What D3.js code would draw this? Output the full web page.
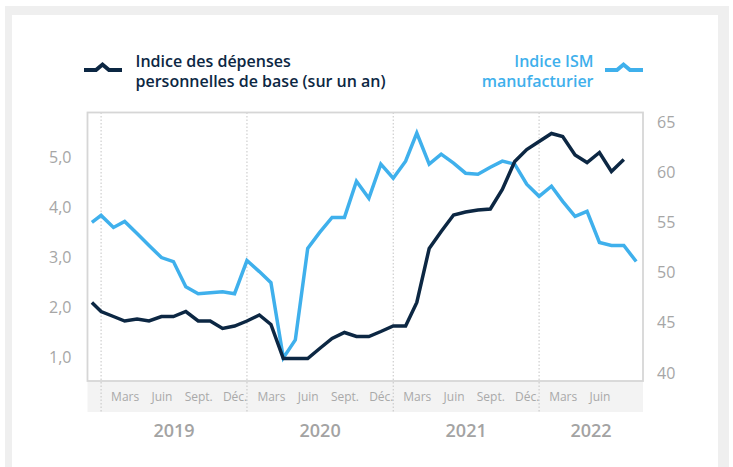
<!DOCTYPE html>
<html>
<head>
<meta charset="utf-8">
<title>Indice PCE de base et indice ISM</title>
<script src="https://d3js.org/d3.v7.min.js"></script>
<style>
  body { margin: 0; background: #fff; }
  svg text { font-family: "Open Sans", sans-serif; }
</style>
</head>
<body>
<svg id="chart" width="733" height="467"></svg>
<script>
// monthly observations, Dec 2018 -> Sep 2022
var dates = [
  "2018-12-09",
  "2019-01-01","2019-02-01","2019-03-01","2019-04-01","2019-05-01","2019-06-01",
  "2019-07-01","2019-08-01","2019-09-01","2019-10-01","2019-11-01","2019-12-01",
  "2020-01-01","2020-02-01","2020-03-01","2020-04-01","2020-05-01","2020-06-01",
  "2020-07-01","2020-08-01","2020-09-01","2020-10-01","2020-11-01","2020-12-01",
  "2021-01-01","2021-02-01","2021-03-01","2021-04-01","2021-05-01","2021-06-01",
  "2021-07-01","2021-08-01","2021-09-01","2021-10-01","2021-11-01","2021-12-01",
  "2022-01-01","2022-02-01","2022-03-01","2022-04-01","2022-05-01","2022-06-01",
  "2022-07-01","2022-08-01","2022-09-01"
];

// core PCE, % y/y (left axis) - ends Aug 2022
var pceValues = [
  2.09,
  1.91, 1.81, 1.72, 1.76, 1.72, 1.81, 1.81, 1.91, 1.72, 1.72, 1.57, 1.62,
  1.72, 1.84, 1.65, 0.97, 0.97, 0.97, 1.17, 1.37, 1.49, 1.41, 1.41, 1.51,
  1.62, 1.62, 2.09, 3.17, 3.51, 3.84, 3.90, 3.94, 3.96, 4.35, 4.91, 5.15,
  5.31, 5.47, 5.41, 5.04, 4.89, 5.09, 4.71, 4.95
];

// ISM manufacturing (right axis) - ends Sep 2022
var ismValues = [
  55.0,
  55.7, 54.5, 55.1, 53.9, 52.7, 51.5, 51.1, 48.6, 47.9, 48.0, 48.1, 47.9,
  51.2, 50.1, 49.0, 41.5, 43.3, 52.4, 54.0, 55.5, 55.5, 59.1, 57.4, 60.8,
  59.4, 61.1, 63.9, 60.8, 61.8, 60.9, 59.9, 59.8, 60.5, 61.1, 60.8, 58.8,
  57.6, 58.6, 57.1, 55.6, 56.1, 53.0, 52.7, 52.7, 51.1
];

var leftTicks = [1, 2, 3, 4, 5];
var rightTicks = [40, 45, 50, 55, 60, 65];
var years = [2019, 2020, 2021, 2022];
var monthTicks = [
  "2019-03-01","2019-06-01","2019-09-01","2019-12-01",
  "2020-03-01","2020-06-01","2020-09-01","2020-12-01",
  "2021-03-01","2021-06-01","2021-09-01","2021-12-01",
  "2022-03-01","2022-06-01"
];
var monthNames = {2: "Mars", 5: "Juin", 8: "Sept.", 11: "Déc."};

var pceLabel = ["Indice des dépenses", "personnelles de base (sur un an)"];
var ismLabel = ["Indice ISM", "manufacturier"];

var darkColor = "#0c2743";
var blueColor = "#3fb0ec";
var axisGrey = "#a6a6a6";

var parse = d3.timeParse("%Y-%m-%d");
var fr = d3.formatLocale({decimal: ",", thousands: " ", grouping: [3], currency: ["", " $"]});

var svg = d3.select("#chart");

// light grey frame round the card
svg.append("rect").attr("x", 5).attr("y", 6).attr("width", 724).attr("height", 470).attr("fill", "#efefef");
svg.append("rect").attr("x", 12).attr("y", 15).attr("width", 706).attr("height", 470).attr("fill", "#fff");

var plot = {left: 87.5, right: 643, top: 112.5, bottom: 381};

var x = d3.scaleTime()
    .domain([new Date(2018, 10, 28), new Date(2022, 8, 18)])
    .range([plot.left, plot.right]);

var yLeft = d3.scaleLinear().domain([1, 5]).range([357, 157]);
var yRight = d3.scaleLinear().domain([40, 65]).range([373, 122]);

// grey band that holds the month labels
svg.append("rect")
    .attr("x", plot.left).attr("y", plot.bottom)
    .attr("width", plot.right - plot.left).attr("height", 31)
    .attr("fill", "#f3f3f3");

// dotted year separators
svg.append("g").selectAll("line")
  .data(years)
  .join("line")
    .attr("x1", function(d) { return x(new Date(d, 0, 1)); })
    .attr("x2", function(d) { return x(new Date(d, 0, 1)); })
    .attr("y1", plot.top)
    .attr("y2", plot.bottom + 31)
    .attr("stroke", "#c4c4c4")
    .attr("stroke-width", 1)
    .attr("stroke-dasharray", "1.5,2");

// plot frame
svg.append("rect")
    .attr("x", plot.left).attr("y", plot.top)
    .attr("width", plot.right - plot.left).attr("height", plot.bottom - plot.top)
    .attr("fill", "none")
    .attr("stroke", "#d6d6d6")
    .attr("stroke-width", 1.8);

// axes
var leftAxis = svg.append("g")
    .attr("transform", "translate(" + plot.left + ",0)")
    .call(d3.axisLeft(yLeft).tickValues(leftTicks).tickSize(0).tickPadding(16).tickFormat(fr.format(".1f")));

var rightAxis = svg.append("g")
    .attr("transform", "translate(" + plot.right + ",0)")
    .call(d3.axisRight(yRight).tickValues(rightTicks).tickSize(0).tickPadding(14));

[leftAxis, rightAxis].forEach(function(a) {
  a.select(".domain").remove();
  a.selectAll("text")
      .attr("fill", axisGrey)
      .style("font-size", "16px")
      .style("font-family", "'Open Sans', sans-serif");
});

var bottomAxis = svg.append("g")
    .attr("transform", "translate(0," + plot.bottom + ")")
    .call(d3.axisBottom(x)
      .tickValues(monthTicks.map(parse))
      .tickSize(0)
      .tickPadding(11.5)
      .tickFormat(function(d) { return monthNames[d.getMonth()]; }));
bottomAxis.select(".domain").remove();
bottomAxis.selectAll("text")
    .attr("fill", "#a9a9a9")
    .style("font-size", "12px")
    .style("font-family", "'Open Sans', sans-serif");

// year labels, centred on the visible part of each year
svg.append("g").selectAll("text")
  .data(years)
  .join("text")
    .attr("x", function(d) {
      var a = Math.max(x(new Date(d, 0, 1)), plot.left);
      var b = Math.min(x(new Date(d + 1, 0, 1)), plot.right);
      return (a + b) / 2;
    })
    .attr("y", 437)
    .attr("text-anchor", "middle")
    .attr("fill", "#a3a3a3")
    .style("font-size", "18px")
    .style("font-weight", 600)
    .text(function(d) { return d; });

// series
var ismData = dates.map(function(d, i) { return {date: parse(d), value: ismValues[i]}; });
var pceData = pceValues.map(function(v, i) { return {date: parse(dates[i]), value: v}; });

var lineRight = d3.line()
    .x(function(d) { return x(d.date); })
    .y(function(d) { return yRight(d.value); });

var lineLeft = d3.line()
    .x(function(d) { return x(d.date); })
    .y(function(d) { return yLeft(d.value); });

svg.append("path")
    .datum(ismData)
    .attr("d", lineRight)
    .attr("fill", "none")
    .attr("stroke", blueColor)
    .attr("stroke-width", 3.5);

svg.append("path")
    .datum(pceData)
    .attr("d", lineLeft)
    .attr("fill", "none")
    .attr("stroke", darkColor)
    .attr("stroke-width", 3.5);

// legend
function legendMark(x0, color) {
  svg.append("path")
      .attr("d", "M" + x0 + ",70 h12 l6.5,-5.5 l6.5,5.5 h13")
      .attr("fill", "none")
      .attr("stroke", color)
      .attr("stroke-width", 4);
}

legendMark(84, darkColor);
legendMark(605, blueColor);

function legendText(lines, x0, anchor, color) {
  svg.append("g").selectAll("text")
    .data(lines)
    .join("text")
      .attr("x", x0)
      .attr("y", function(d, i) { return 66.5 + i * 20; })
      .attr("text-anchor", anchor)
      .attr("fill", color)
      .style("font-size", "16px")
      .style("font-weight", 600)
      .text(function(d) { return d; });
}

legendText(pceLabel, 135.5, "start", darkColor);
legendText(ismLabel, 593.5, "end", blueColor);
</script>
</body>
</html>
